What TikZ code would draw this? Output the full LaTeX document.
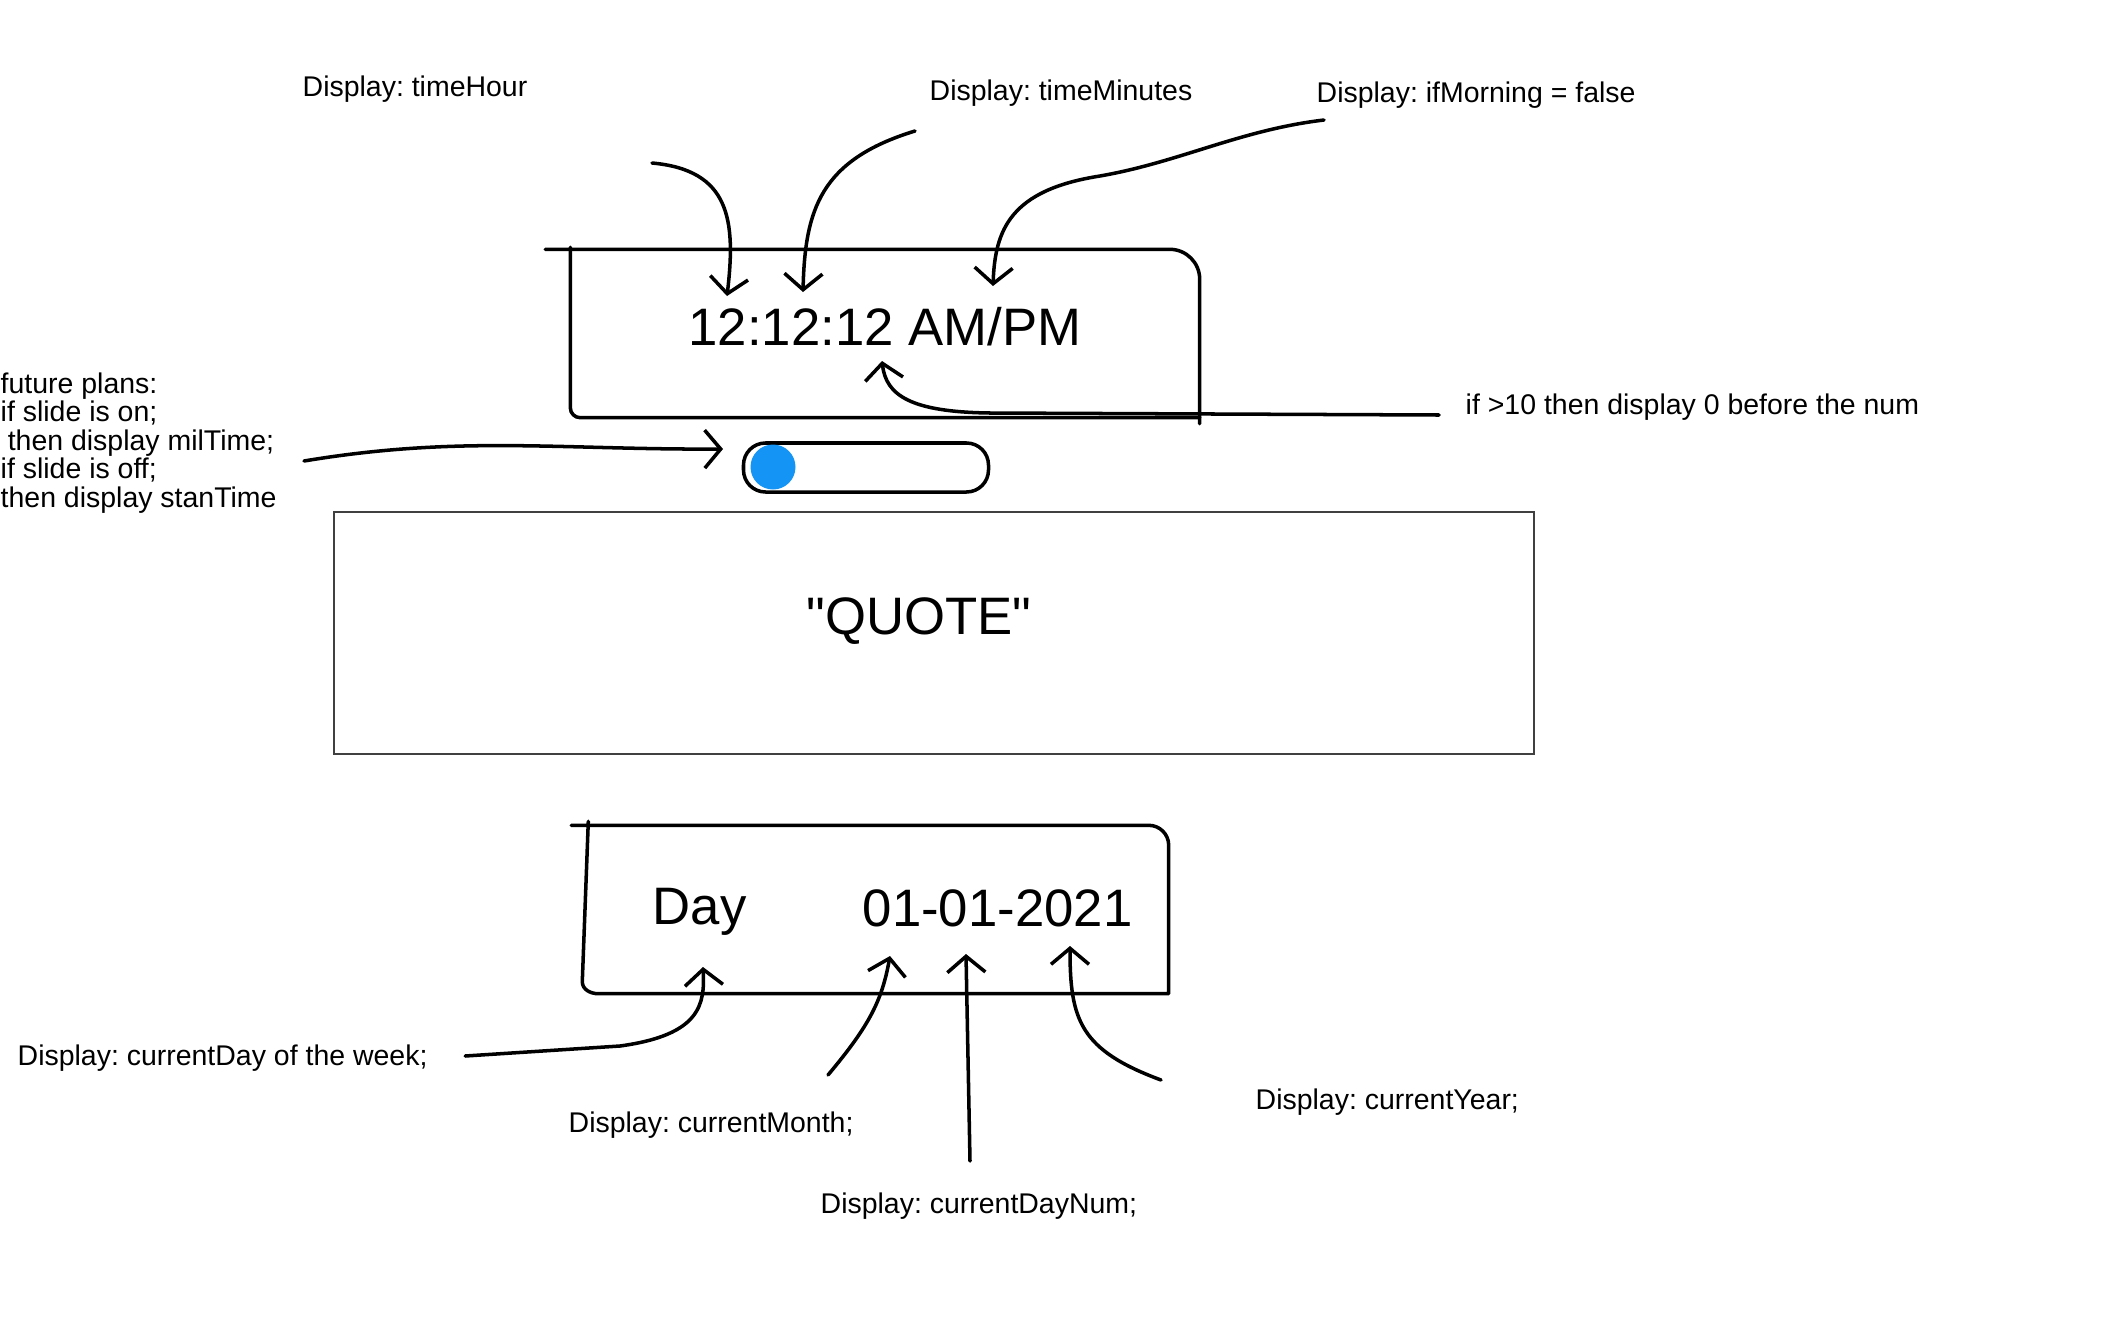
\documentclass[tikz,border=0pt]{standalone}
\usepackage{fontspec}
\setmainfont{Liberation Sans}
\usetikzlibrary{arrows.meta}
\usetikzlibrary{positioning}
\definecolor{knobblue}{RGB}{20,148,244}
\frenchspacing

\begin{document}
\begin{tikzpicture}
    \tikzstyle{every node}=[inner sep=0pt]
    \tikzstyle{lbl}=[anchor=west,font=\fontsize{8.1}{8.1}\selectfont]
    \tikzstyle{big}=[font=\fontsize{15}{15}\selectfont]
    \tikzstyle{pen}=[line width=1pt,line cap=round,line join=round]
    \tikzstyle{arr}=[pen,-{Straight Barb[length=1.6mm,width=3.8mm]}]
    \useasboundingbox (0,0) rectangle (21.12,-13.42);

    % labels
    \node[lbl] (hourlbl) at (3.02,-0.89) {Display: timeHour};
    \node[lbl] (minlbl) at (9.29,-0.93) {Display: timeMinutes};
    \node[lbl] (morninglbl) at (13.16,-0.95) {Display: ifMorning = false};
    \node[lbl] (padlbl) at (14.65,-4.07) {if >10 then display 0 before the num};
    \node[lbl,align=left] (planslbl) at (0,-4.43) {future plans:\\if slide is on;\\\hspace*{0.25em}then display milTime;\\if slide is off;\\then display stanTime};
    \node[lbl] (daylbl) at (0.17,-10.58) {Display: currentDay of the week;};
    \node[lbl] (monthlbl) at (5.68,-11.25) {Display: currentMonth;};
    \node[lbl] (daynumlbl) at (8.20,-12.06) {Display: currentDayNum;};
    \node[lbl] (yearlbl) at (12.55,-11.02) {Display: currentYear;};

    % clock
    \node[minimum width=6.28cm,minimum height=1.67cm] (timebox) at (8.85,-3.335) {};
    \node[big] (clock) at (8.85,-3.27) {12:12:12 AM/PM};
    \draw[pen] ([xshift=-0.25cm]timebox.north west) -- ([xshift=-0.3cm]timebox.north east)
        to[out=0,in=90] ([yshift=-0.3cm]timebox.north east) -- ([yshift=-0.06cm]timebox.south east);
    \draw[pen] ([yshift=0.02cm]timebox.north west) -- ([yshift=0.1cm]timebox.south west)
        to[out=-90,in=180] ([xshift=0.1cm]timebox.south west) -- (timebox.south east);

    % slider
    \node[draw,pen,rounded corners=0.22cm,minimum width=2.45cm,minimum height=0.49cm] (slider) at (8.66,-4.675) {};
    \node[circle,fill=knobblue,minimum size=0.45cm] (knob) at (7.73,-4.67) {};

    % quote
    \node[draw=black!75,line width=0.4pt,minimum width=12cm,minimum height=2.42cm] (quotebox) at (9.34,-6.33) {};
    \node[big] (quote) at (9.19,-6.21) {\textquotedbl QUOTE\textquotedbl};

    % date
    \node[minimum width=5.79cm,minimum height=1.67cm] (datebox) at (8.785,-9.095) {};
    \node[big,anchor=west] (day) at (6.52,-9.12) {Day};
    \node[big,anchor=west] (date) at (8.62,-9.08) {01-01-2021};
    \draw[pen] ([xshift=-0.17cm]datebox.north west) -- ([xshift=-0.2cm]datebox.north east)
        to[out=0,in=90] ([yshift=-0.2cm]datebox.north east) -- (datebox.south east)
        -- ([xshift=0.1cm]datebox.south west) to[out=180,in=-90] ([xshift=-0.06cm,yshift=0.12cm]datebox.south west)
        -- ([yshift=0.04cm]datebox.north west);

    % arrow tips
    \coordinate (hourtip) at (7.27,-2.96);
    \coordinate (mintip) at (8.03,-2.92);
    \coordinate (morningtip) at (9.93,-2.86);
    \coordinate (padtip) at (8.82,-3.61);
    \coordinate (slidetip) at (7.23,-4.49);
    \coordinate (daytip) at (7.03,-9.67);
    \coordinate (monthtip) at (8.90,-9.56);
    \coordinate (daynumtip) at (9.66,-9.54);
    \coordinate (yeartip) at (10.70,-9.46);

    \draw[arr] (6.52,-1.63) .. controls (7.3,-1.7) and (7.36,-2.2) .. (hourtip);
    \draw[arr] (9.15,-1.31) .. controls (8.2,-1.6) and (8.05,-2.1) .. (mintip);
    \draw[arr] (13.24,-1.20) .. controls (12.4,-1.30) and (11.8,-1.62) .. (11.0,-1.76)
        .. controls (10.1,-1.9) and (9.95,-2.3) .. (morningtip);
    \draw[arr] ([xshift=-0.26cm,yshift=-0.08cm]padlbl.west) -- (9.9,-4.13)
        .. controls (9.1,-4.12) and (8.86,-3.95) .. (padtip);
    \draw[arr] (3.04,-4.61) .. controls (4.6,-4.35) and (5.6,-4.5) .. (slidetip);
    \draw[arr] ([xshift=0.37cm,yshift=0.02cm]daylbl.east) -- (6.2,-10.46)
        .. controls (7.0,-10.35) and (7.05,-10.05) .. (daytip);
    \draw[arr] (8.28,-10.75) .. controls (8.7,-10.25) and (8.82,-10.0) .. (monthtip);
    \draw[arr] (9.70,-11.61) -- (daynumtip);
    \draw[arr] (11.61,-10.80) .. controls (10.8,-10.5) and (10.7,-10.2) .. (yeartip);
\end{tikzpicture}
\end{document}
